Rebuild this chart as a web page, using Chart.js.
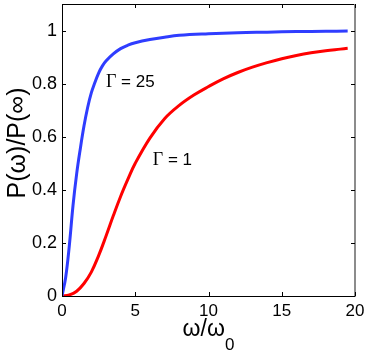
<!DOCTYPE html>
<html>
<head>
<meta charset="utf-8">
<script src="https://cdn.jsdelivr.net/npm/chart.js@4.4.1/dist/chart.umd.min.js"></script>
<style>
  html, body { margin: 0; padding: 0; background: #ffffff; }
  #wrap { width: 371px; height: 355px; }
</style>
</head>
<body>
<div id="wrap"><canvas id="powerChart" width="371" height="355"></canvas></div>
<script>
// =============================
// Data
// =============================

// Gamma = 25
const omegaFast = [0, 0.25, 0.5, 0.75, 1, 1.25, 1.5, 1.75, 2, 2.25, 2.5, 2.75, 3, 3.5, 4, 4.5, 5, 6, 7, 8, 10, 12, 14, 16, 18, 19.5];
const powerFast = [0, 0.07, 0.19, 0.34, 0.46, 0.555, 0.64, 0.71, 0.765, 0.805, 0.84, 0.866, 0.885, 0.912, 0.932, 0.945, 0.954, 0.966, 0.975, 0.982, 0.988, 0.992, 0.994, 0.996, 0.997, 0.998];

// Gamma = 1
const omegaSlow = [0, 0.5, 1, 1.5, 2, 2.5, 3, 3.5, 4, 4.5, 5, 6, 7, 8, 9, 10, 11, 12, 13, 14, 15, 16, 17, 18, 19, 19.5];
const powerSlow = [0, 0.004, 0.018, 0.047, 0.09, 0.152, 0.225, 0.302, 0.375, 0.44, 0.5, 0.595, 0.668, 0.718, 0.757, 0.789, 0.818, 0.842, 0.862, 0.879, 0.894, 0.906, 0.916, 0.924, 0.93, 0.933];

const xTicks = [0, 5, 10, 15, 20];
const yTicks = [0, 0.2, 0.4, 0.6, 0.8, 1];
const yTickLabels = ["0", "0.2", "0.4", "0.6", "0.8", "1"];

const curveNames = ["25", "1"];
const curveNameOmega = [3.0, 6.2];
const curveNamePower = [0.805, 0.512];


// =============================
// Helpers
// =============================

function toPoints(xs, ys) {
    return xs.map((x, i) => ({ x: x, y: ys[i] }));
}

const SANS = "'Liberation Sans', Arial, sans-serif";
const SERIF = "'Liberation Serif', 'Times New Roman', serif";


// =============================
// Frame, inward ticks, titles
// =============================

const framePlugin = {

    id: "frame",

    afterDatasetsDraw(chart) {

        const ctx = chart.ctx;
        const area = chart.chartArea;
        const xs = chart.scales.x;
        const ys = chart.scales.y;
        const tl = 4;

        ctx.save();

        // box
        ctx.strokeStyle = "#000000";
        ctx.lineWidth = 1;
        ctx.beginPath();
        ctx.moveTo(area.left + 0.5, area.top + 0.5);
        ctx.lineTo(area.left + 0.5, area.bottom + 0.5);
        ctx.lineTo(area.right, area.bottom + 0.5);
        ctx.moveTo(area.left, area.top + 0.5);
        ctx.lineTo(area.right, area.top + 0.5);
        ctx.stroke();

        ctx.strokeStyle = "#8c8c8c";
        ctx.lineWidth = 2;
        ctx.beginPath();
        ctx.moveTo(area.right, area.top);
        ctx.lineTo(area.right, area.bottom + 1);
        ctx.stroke();

        // ticks
        ctx.strokeStyle = "#000000";
        ctx.lineWidth = 1;
        ctx.beginPath();

        xTicks.forEach(v => {
            const px = Math.round(xs.getPixelForValue(v)) + 0.5;
            ctx.moveTo(px, area.bottom);
            ctx.lineTo(px, area.bottom - tl);
            ctx.moveTo(px, area.top);
            ctx.lineTo(px, area.top + tl);
        });

        yTicks.forEach(v => {
            const py = Math.round(ys.getPixelForValue(v)) + 0.5;
            ctx.moveTo(area.left, py);
            ctx.lineTo(area.left + tl, py);
            ctx.moveTo(area.right, py);
            ctx.lineTo(area.right - tl, py);
        });

        ctx.stroke();

        // curve names
        ctx.fillStyle = "#000000";
        ctx.textBaseline = "middle";
        ctx.textAlign = "left";

        curveNames.forEach((name, i) => {
            const px = xs.getPixelForValue(curveNameOmega[i]);
            const py = ys.getPixelForValue(curveNamePower[i]);
            ctx.font = "18px " + SERIF;
            ctx.fillText("\u0393", px, py);
            const w = ctx.measureText("\u0393").width;
            ctx.font = "17px " + SANS;
            ctx.fillText(" = " + name, px + w, py);
        });

        // x title  w/w0
        const cx = (area.left + area.right) / 2;
        ctx.textBaseline = "alphabetic";
        ctx.font = "23px " + SANS;
        const main = "\u03c9/\u03c9";
        const mw = ctx.measureText(main).width;
        ctx.font = "17px " + SANS;
        const sw = ctx.measureText("0").width;
        const startX = cx - (mw + sw) / 2;
        ctx.font = "23px " + SANS;
        ctx.fillText(main, startX, 336);
        ctx.font = "17px " + SANS;
        ctx.fillText("0", startX + mw, 350);

        // y title
        ctx.translate(25, 143);
        ctx.rotate(-Math.PI / 2);
        ctx.textAlign = "center";
        ctx.font = "25px " + SANS;
        ctx.fillText("P(\u03c9)/P(\u221e)", 0, 0);

        ctx.restore();

    }

};


// =============================
// Chart
// =============================

new Chart(document.getElementById("powerChart"), {

    type: "line",

    data: {

        datasets: [

            {
                label: "\u0393 = 25",
                data: toPoints(omegaFast, powerFast),
                borderColor: "#2f3dff",
                borderWidth: 3,
                pointRadius: 0,
                tension: 0.4,
                fill: false
            },

            {
                label: "\u0393 = 1",
                data: toPoints(omegaSlow, powerSlow),
                borderColor: "#ff0000",
                borderWidth: 3,
                pointRadius: 0,
                tension: 0.4,
                fill: false
            }

        ]

    },

    options: {

        responsive: false,
        animation: false,
        devicePixelRatio: 1,

        layout: {
            padding: { top: 4, right: 16, left: 0, bottom: 0 }
        },

        plugins: {
            legend: { display: false },
            tooltip: { enabled: false }
        },

        scales: {

            x: {
                type: "linear",
                min: 0,
                max: 20,
                grid: { display: false, drawTicks: false, tickLength: 0 },
                border: { display: false },
                afterBuildTicks: (scale) => {
                    scale.ticks = xTicks.map(v => ({ value: v }));
                },
                afterFit: (scale) => {
                    scale.height = 59;
                    scale.paddingLeft = 0;
                    scale.paddingRight = 0;
                },
                ticks: {
                    color: "#000000",
                    padding: 5,
                    maxRotation: 0,
                    font: { family: SANS, size: 17 },
                    callback: (v) => String(v)
                }
            },

            y: {
                type: "linear",
                min: 0,
                max: 1.1,
                grid: { display: false, drawTicks: false, tickLength: 0 },
                border: { display: false },
                afterBuildTicks: (scale) => {
                    scale.ticks = yTicks.map(v => ({ value: v }));
                },
                afterFit: (scale) => {
                    scale.width = 62;
                    scale.paddingTop = 0;
                    scale.paddingBottom = 0;
                },
                ticks: {
                    color: "#000000",
                    padding: 5,
                    font: { family: SANS, size: 18 },
                    callback: (v) => yTickLabels[yTicks.indexOf(v)]
                }
            }

        }

    },

    plugins: [framePlugin]

});
</script>
</body>
</html>
